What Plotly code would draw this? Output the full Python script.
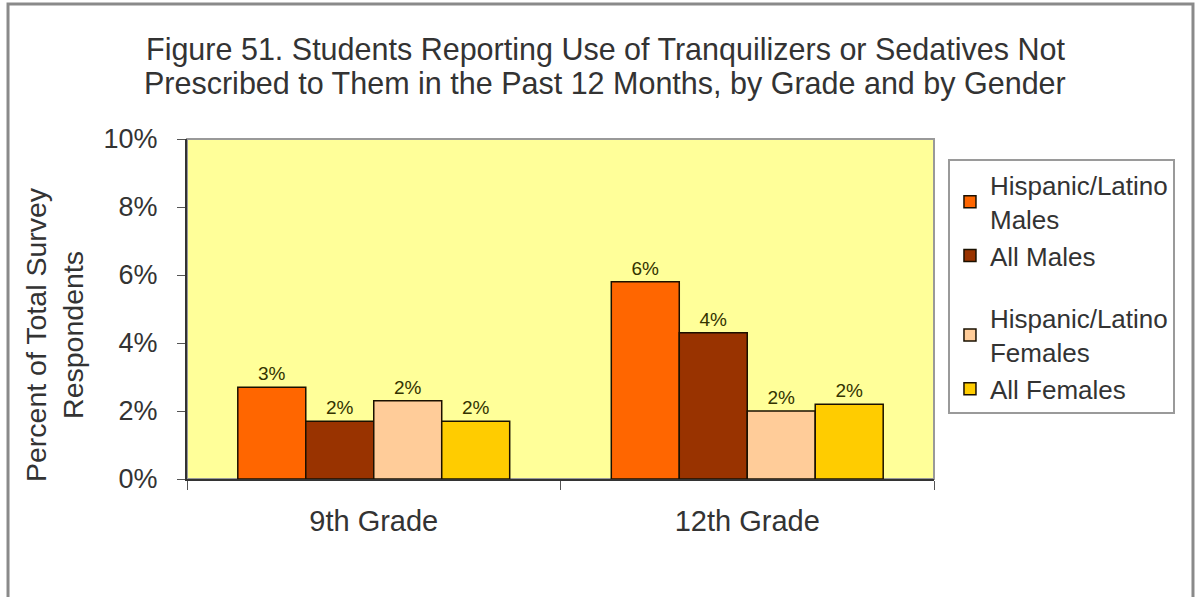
import plotly.graph_objects as go

# Survey results (share of respondents)
grades = ["9th Grade", "12th Grade"]
series_names = [
    "Hispanic/Latino<br>Males",
    "All Males",
    "Hispanic/Latino<br>Females",
    "All Females",
]
hisp_males = [0.027, 0.058]
all_males = [0.017, 0.043]
hisp_females = [0.023, 0.020]
all_females = [0.017, 0.022]

series_values = [hisp_males, all_males, hisp_females, all_females]
series_colors = ["#FF6600", "#993300", "#FFCC99", "#FFCC00"]
series_groups = ["males", "males", "females", "females"]

title_lines = [
    "Figure 51. Students Reporting Use of Tranquilizers or Sedatives Not",
    "Prescribed to Them in the Past 12 Months, by Grade and by Gender",
]
y_title = "Percent of Total Survey<br>Respondents"

FONT = "Liberation Sans, Arial, sans-serif"
TEXT = "#333333"

fig = go.Figure()
for name, vals, color, grp in zip(series_names, series_values, series_colors, series_groups):
    fig.add_trace(go.Bar(
        x=grades,
        y=vals,
        name=name,
        legendgroup=grp,
        marker=dict(color=color, line=dict(color="#1a1000", width=1.5)),
        texttemplate="%{y:.0%}",
        textposition="outside",
        textfont=dict(family=FONT, size=19, color="#333300"),
        cliponaxis=False,
    ))

# two-line chart heading, set as separate lines for tighter leading
annotations = [
    dict(text=title_lines[0], xref="paper", yref="paper", x=0.5596, y=1.2647,
         xanchor="center", yanchor="middle", showarrow=False,
         font=dict(family=FONT, size=30.5, color=TEXT)),
    dict(text=title_lines[1], xref="paper", yref="paper", x=0.5596, y=1.1647,
         xanchor="center", yanchor="middle", showarrow=False,
         font=dict(family=FONT, size=30.5, color=TEXT)),
    dict(text=y_title, xref="paper", yref="paper", x=-0.178, y=0.4235,
         xanchor="center", yanchor="middle", showarrow=False, textangle=-90,
         font=dict(family=FONT, size=28.5, color=TEXT)),
]

fig.update_layout(
    width=1195,
    height=597,
    margin=dict(l=187, r=261, t=139, b=118),
    paper_bgcolor="white",
    plot_bgcolor="#FFFF99",
    barmode="group",
    bargap=0.272,
    bargroupgap=0,
    font=dict(family=FONT, color=TEXT),
    annotations=annotations,
    legend=dict(
        x=1.0187, xanchor="left", y=0.94, yanchor="top",
        bgcolor="white", bordercolor="#9a9a9a", borderwidth=2,
        font=dict(family=FONT, size=26, color=TEXT),
        traceorder="grouped", tracegroupgap=26,
        itemwidth=30,
    ),
    xaxis=dict(
        tickfont=dict(family=FONT, size=29, color=TEXT),
        showline=True, linecolor="#333333", linewidth=2,
        ticks="outside", tickson="boundaries", ticklen=9,
        tickcolor="#555555", tickwidth=1,
        ticklabelstandoff=15,
    ),
    yaxis=dict(
        range=[0, 0.10],
        dtick=0.02,
        tickformat=".0%",
        tickfont=dict(family=FONT, size=27, color=TEXT),
        showline=True, linecolor="#333333", linewidth=2,
        ticks="outside", ticklen=8, tickcolor="#555555",
        showgrid=False, zeroline=False,
        ticklabelstandoff=14,
    ),
    shapes=[
        # plot area outline (top and right edges in grey)
        dict(type="rect", xref="paper", yref="paper", x0=0, x1=1, y0=0, y1=1,
             line=dict(color="#999999", width=2), layer="below"),
        # chart frame
        dict(type="rect", xref="paper", yref="paper",
             x0=-0.2396, x1=1.3467, y0=-0.37, y1=1.397,
             line=dict(color="#8a8a8a", width=3)),
    ],
)

fig.write_html("out.html")
